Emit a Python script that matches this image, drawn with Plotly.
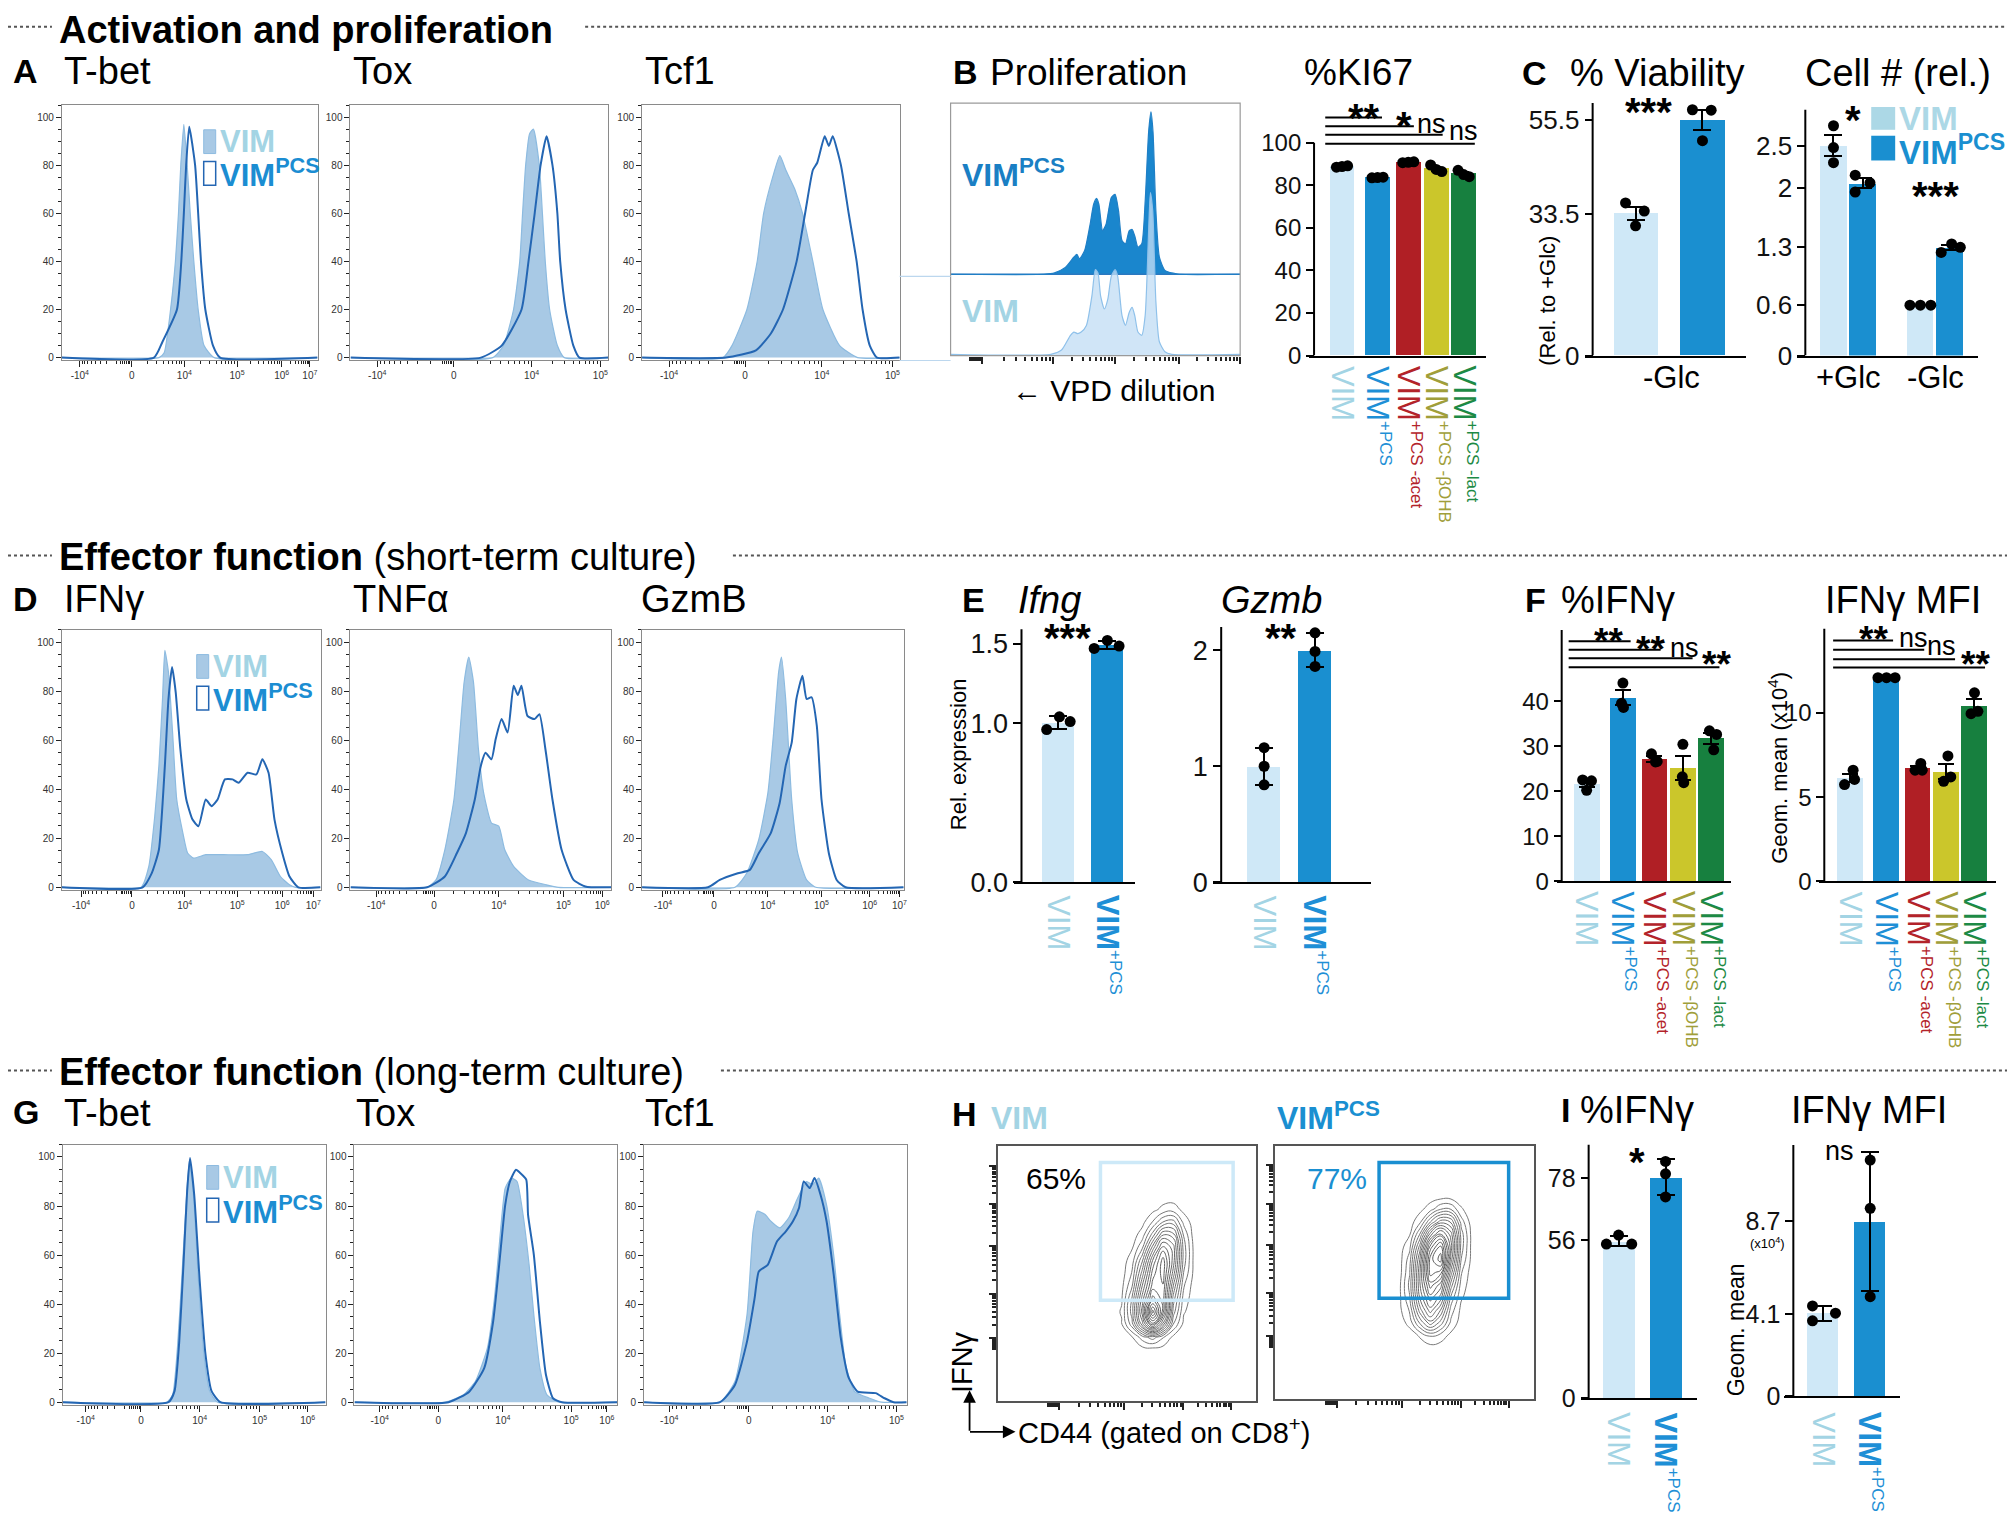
import numpy as np
import plotly.graph_objects as go

# ====================== DATA ======================
# Flow histograms: channel position (0-100 across plotted axis), % of max
A_TBET_VIM_X = [0, 38, 40, 42.5, 44.4, 45.6, 46.5, 47.7, 49, 50.2, 51.6, 53.3, 55.6, 59.6, 100]
A_TBET_VIM_Y = [0, 0, 2, 20, 40, 60, 80, 97, 80, 60, 40, 20, 5, 0, 0]
A_TBET_PCS_X = [0, 36, 39.3, 45, 46.7, 47.7, 48.6, 49.8, 52.1, 53.3, 54.4, 56.1, 59.1, 61.9, 100]
A_TBET_PCS_Y = [0, 0, 6.5, 20, 40, 60, 80, 96, 80, 60, 40, 20, 5, 0, 0]
A_TOX_VIM_X = [0, 55.2, 59.4, 63.3, 65.7, 66.8, 68, 69.5, 71, 73.3, 74.5, 75.6, 77.3, 80.3, 83, 100]
A_TOX_VIM_Y = [0, 0, 5, 20, 40, 60, 80, 93, 95, 80, 60, 40, 20, 5, 0, 0]
A_TOX_PCS_X = [0, 50.6, 58.7, 66.4, 69.1, 71.5, 73.8, 76.1, 78.4, 80.3, 81.4, 83.5, 86.5, 88.9, 100]
A_TOX_PCS_Y = [0, 0, 5, 20, 40, 60, 80, 92, 80, 60, 40, 20, 5, 0, 0]
A_TCF1_VIM_X = [0, 31.4, 34.9, 40.7, 44.7, 47.2, 50.7, 53.5, 55.8, 59.3, 62.3, 66.3, 70.2, 76.7, 83.7, 100]
A_TCF1_VIM_Y = [0, 0, 5, 20, 40, 60, 75, 84, 78, 70, 60, 40, 20, 5, 0, 0]
A_TCF1_PCS_X = [0, 32.6, 44.2, 50, 54.7, 60, 63.3, 66.3, 68, 70.9, 72.5, 74, 77.2, 80.2, 83.3, 85.6, 88.4, 91.2, 100]
A_TCF1_PCS_Y = [0, 0, 3, 10, 20, 40, 60, 78, 81, 92, 88, 92, 80, 60, 40, 20, 5, 0, 0]

D_IFNG_VIM_X = [0, 30.6, 33.6, 35.9, 37.5, 38.9, 39.8, 41.2, 42.8, 44.4, 46.8, 48.6, 50.9, 55.6, 62.5, 71.8, 77.5, 81, 84.5, 88, 90.3, 100]
D_IFNG_VIM_Y = [0, 0, 8.5, 29, 49.5, 76.8, 96.6, 87.7, 63, 35.8, 22, 14, 11.9, 13.3, 13.3, 13.3, 14.6, 11.2, 4.4, 1, 0, 0]
D_IFNG_PCS_X = [0, 31.2, 34.7, 37.5, 39.8, 41.2, 42.6, 44, 45.8, 48.1, 50.5, 52.8, 55.6, 57.9, 60.2, 63, 66, 68.3, 71.8, 75.2, 77.5, 79.9, 82.2, 85.2, 88, 91.4, 100]
D_IFNG_PCS_Y = [0, 0, 5.7, 15.3, 49.5, 76.8, 89.8, 79.5, 56.3, 35.8, 27.6, 24.9, 35.8, 33.1, 35.8, 44, 44, 42.6, 46.7, 46, 52.2, 46.7, 27.6, 14, 4.4, 0, 0]
D_TNFA_VIM_X = [0, 29.4, 32.8, 36.2, 39.7, 42, 43.6, 45.4, 47.2, 49.1, 51.1, 54.1, 56.9, 59.2, 62.6, 68.3, 75.2, 79.8, 100]
D_TNFA_VIM_Y = [0, 0, 3, 15.3, 35.8, 63.1, 83.6, 93.9, 83.6, 56.3, 38.5, 26.2, 24.9, 15.3, 8.5, 3, 1, 0, 0]
D_TNFA_PCS_X = [0, 29.4, 36.2, 40.8, 44.3, 47.7, 50, 51.8, 54.1, 55.7, 58, 60.3, 62.6, 64.2, 65.6, 67.9, 70.6, 72.5, 74.8, 77.5, 81, 85.6, 90.1, 92.4, 100]
D_TNFA_PCS_Y = [0, 0, 4.4, 13.9, 22.1, 35.8, 49.5, 54.9, 52.2, 60.4, 68.6, 63.1, 82.2, 78.4, 82.2, 69.9, 68.6, 70.6, 56.3, 35.8, 15.3, 3, 0.3, 0, 0]
D_GZMB_VIM_X = [0, 35.5, 40, 44.6, 48.1, 50.3, 52.2, 53.3, 54.9, 57.2, 59.5, 62.9, 66.4, 100]
D_GZMB_VIM_Y = [0, 0, 5.7, 19.4, 38.5, 63.1, 87.7, 93.9, 76.8, 35.8, 13.9, 3, 0, 0]
D_GZMB_PCS_X = [0, 25.2, 29.7, 36.6, 41.2, 44.6, 49.2, 52.6, 54.9, 57.2, 59, 61.3, 62.9, 64.8, 66.8, 68.6, 71.4, 74.4, 77.8, 100]
D_GZMB_PCS_Y = [0, 0, 3, 5.7, 7.1, 13.9, 22.1, 34.4, 49.5, 59, 76.8, 86.3, 76.8, 77.5, 65.8, 35.8, 13.9, 3, 0, 0]

G_TBET_VIM_X = [0, 39.5, 41.8, 43.6, 45.2, 46.8, 48.2, 49.8, 51.6, 53.7, 55.9, 58.9, 100]
G_TBET_VIM_Y = [0, 0, 3, 22.1, 49.3, 79.2, 98.9, 83.3, 49.3, 19.4, 4.5, 0, 0]
G_TBET_PCS_X = [0, 40.2, 42.5, 44.3, 45.9, 47.3, 48.4, 50, 52.1, 54.3, 56.6, 60, 100]
G_TBET_PCS_Y = [0, 0, 4.5, 24.8, 56.1, 86, 99.6, 84.6, 49.3, 19.4, 4.5, 0, 0]
G_TOX_VIM_X = [0, 34.6, 41.5, 46, 50.6, 53.3, 55.6, 57.4, 59.7, 61.9, 64.2, 66.5, 68.3, 70.6, 73.3, 77.9, 100]
G_TOX_VIM_Y = [0, 0, 3, 8.4, 22, 42.4, 69.7, 87.3, 91.4, 90, 76.4, 56, 35.6, 13.9, 3, 0, 0]
G_TOX_PCS_X = [0, 35.8, 43.7, 49.4, 52.8, 55.1, 57.4, 59.2, 61.5, 63.1, 65.4, 66.1, 68.3, 70.6, 72.9, 75.6, 79, 100]
G_TOX_PCS_Y = [0, 0, 4.3, 13.9, 32.9, 56, 80.5, 90, 94.8, 93.5, 90.8, 76.4, 60.1, 32.9, 11.2, 1.6, 0, 0]
G_TCF1_VIM_X = [0, 28.9, 34.6, 39.2, 41.5, 43.1, 46, 48.3, 51.7, 55.1, 58.5, 61.9, 64.2, 66.5, 69.5, 72.2, 74.5, 76.8, 80.2, 85.9, 90.4, 100]
G_TCF1_VIM_Y = [0, 0, 8.4, 35.6, 69.7, 77.9, 76.6, 73.8, 71.1, 75.2, 83.3, 90, 88.7, 91.4, 80.5, 60.1, 35.6, 15.2, 4.3, 1.6, 0, 0]
G_TCF1_PCS_X = [0, 28.9, 34.6, 39.2, 42.1, 43.7, 47.1, 50.6, 54, 56.7, 59, 60.8, 63.1, 64.9, 67.2, 69.5, 72.2, 74.9, 77.9, 81.3, 88.2, 91.6, 95, 100]
G_TCF1_PCS_Y = [0, 0, 7, 24.7, 42.4, 53.3, 56, 65.5, 69.7, 73.8, 79.2, 90, 87.3, 91.4, 84.6, 73.8, 52.2, 26.3, 10, 4.3, 3.7, 1.6, 0, 0]

# Histogram tick labels
XT4 = ['-10<sup>4</sup>', '0', '10<sup>4</sup>', '10<sup>5</sup>']
XT5 = XT4 + ['10<sup>6</sup>']
XT6 = XT5 + ['10<sup>7</sup>']
HIST_Y_TICKS = [0, 20, 40, 60, 80, 100]

# Proliferation (VPD) histograms, % of max
PROLIF_VIM_X = [0, 34.6, 38.3, 41.4, 42.6, 43.9, 45.1, 46.9, 48.8, 50.0, 50.9, 51.8, 53.1, 54.3, 55.5, 56.8, 57.7, 59.2, 60.4, 61.7, 62.7, 63.6, 64.7, 66.0, 67.2, 68.4, 69.0, 69.8, 70.9, 72.1, 74.0, 76.4, 100]
PROLIF_VIM_Y = [0, 0, 2.6, 11.7, 13.7, 12.7, 13.7, 17.8, 36, 52.1, 50.1, 36, 27.9, 34, 48.1, 52.1, 48.1, 23.8, 17.8, 25.9, 28.9, 23.8, 13.7, 11.7, 24, 76.6, 99.6, 88.5, 32.3, 7.7, 1.6, 0, 0]
PROLIF_PCS_X = [0, 32.2, 35.9, 39.6, 42.6, 43.6, 44.5, 46.3, 48.2, 49.4, 50.4, 51.2, 52.5, 53.7, 55.5, 56.8, 58.0, 59.2, 60.4, 61.7, 62.7, 63.6, 64.7, 66.0, 67.2, 68.4, 69.2, 69.9, 70.9, 72.1, 74.0, 76.4, 78.9, 100]
PROLIF_PCS_Y = [0, 0, 0.8, 4.1, 10.6, 12.2, 9.5, 14.6, 30.9, 43.1, 46.7, 43.1, 26.8, 30.9, 47.2, 49.2, 39, 20.7, 18.7, 26.8, 27.6, 23.6, 16.7, 18.7, 45.1, 87.8, 100, 87.8, 39, 10.6, 2.4, 0.8, 0, 0]

# Bar chart groups
GROUP_MAIN = ['VIM', 'VIM', 'VIM', 'VIM', 'VIM']
GROUP_SUFFIX = ['', '+PCS', '+PCS -acet', '+PCS -βOHB', '+PCS -lact']
KI67_DOTS = [[88.5, 88.8, 89.1], [83.5, 83.6, 83.8], [90.6, 90.8, 91.0], [89.5, 87.4, 86.4], [87.0, 85.0, 84.0]]
KI67_TICKS = [0, 20, 40, 60, 80, 100]
VIAB_DOTS = [[36.0, 34.1, 30.6], [58.0, 57.9, 50.7]]
VIAB_TICKS = [0, 33.5, 55.5]
CELLNUM_CONDITIONS = ['+Glc', '-Glc']
CELLNUM_DOTS = [[2.74, 2.48, 2.30], [2.15, 1.95, 2.06], [0.6, 0.6, 0.6], [1.23, 1.33, 1.29]]
CELLNUM_TICKS = [0, 0.6, 1.3, 2, 2.5]
IFNG_EXPR_DOTS = [[0.96, 1.04, 1.01], [1.47, 1.52, 1.485]]
IFNG_EXPR_TICKS = [0, 1.0, 1.5]
GZMB_EXPR_DOTS = [[1.16, 1.0, 0.84], [2.15, 1.99, 1.86]]
GZMB_EXPR_TICKS = [0, 1, 2]
F_PCT_DOTS = [[22.5, 22.3, 20.2], [44.0, 39.5, 38.6], [28.3, 26.5, 26.6], [30.4, 23.2, 21.9], [33.4, 32.6, 29.2]]
F_PCT_TICKS = [0, 10, 20, 30, 40]
F_MFI_DOTS = [[6.6, 5.75, 6.05], [12.1, 12.1, 12.1], [7.0, 6.6, 6.6], [7.45, 5.94, 6.2], [11.2, 9.96, 10.1]]
F_MFI_TICKS = [0, 5, 10]
I_PCT_DOTS = [[54.6, 57.8, 54.6], [83.9, 79.5, 71.3]]
I_PCT_TICKS = [0, 56, 78]
I_MFI_DOTS = [[4.49, 3.75, 4.13], [11.75, 9.35, 4.95]]
I_MFI_TICKS = [0, 4.1, 8.7]

# Significance labels
KI67_SIG = ['**', '*', 'ns', 'ns']
F_PCT_SIG = ['**', '**', 'ns', '**']
F_MFI_SIG = ['**', 'ns', 'ns', '**']

# Contour (IFNγ vs CD44) density grids
H_X = [44, 48, 52, 56, 60, 64, 68, 72, 76, 80]
H_Y = [20, 25, 30, 35, 40, 45, 50, 55, 60, 65, 70, 75, 80]
H_VIM_Z = [
    [0, 0, 0, 0, 0, 0, 0, 0, 0, 0],
    [0, 0, 0.2, 1.0, 1.5, 0.8, 0.1, 0, 0, 0],
    [0, 0.2, 1.5, 4.0, 6.5, 4.0, 1.2, 0.1, 0, 0],
    [0, 0.3, 2.0, 5.0, 9.0, 6.0, 2.0, 0.3, 0, 0],
    [0, 0.2, 1.8, 4.5, 7.0, 6.0, 2.5, 0.5, 0, 0],
    [0, 0.1, 1.2, 3.8, 6.0, 6.2, 3.2, 0.8, 0, 0],
    [0, 0, 0.8, 3.0, 5.5, 6.5, 4.0, 1.2, 0.1, 0],
    [0, 0, 0.5, 2.2, 4.8, 6.5, 4.5, 1.5, 0.1, 0],
    [0, 0, 0.2, 1.2, 3.5, 5.5, 4.5, 1.5, 0.1, 0],
    [0, 0, 0, 0.5, 2.0, 3.8, 3.5, 1.2, 0, 0],
    [0, 0, 0, 0.1, 0.8, 1.8, 2.0, 0.6, 0, 0],
    [0, 0, 0, 0, 0.1, 0.4, 0.5, 0.1, 0, 0],
    [0, 0, 0, 0, 0, 0, 0, 0, 0, 0]]
H_PCS_Z = [
    [0, 0, 0, 0, 0, 0, 0, 0, 0, 0],
    [0, 0, 0, 0.3, 0.8, 0.5, 0.1, 0, 0, 0],
    [0, 0, 0.4, 1.8, 3.0, 2.0, 0.6, 0, 0, 0],
    [0, 0.1, 0.8, 3.0, 4.5, 3.2, 1.0, 0.1, 0, 0],
    [0, 0.1, 1.2, 3.8, 5.5, 4.5, 1.6, 0.3, 0, 0],
    [0, 0.1, 1.4, 4.2, 6.5, 5.5, 2.5, 0.5, 0, 0],
    [0, 0, 1.2, 4.2, 7.5, 7.0, 3.5, 0.8, 0, 0],
    [0, 0, 1.0, 3.8, 7.5, 8.5, 4.5, 1.2, 0.1, 0],
    [0, 0, 0.6, 3.0, 6.5, 8.0, 5.0, 1.5, 0.1, 0],
    [0, 0, 0.2, 1.8, 4.5, 6.0, 4.5, 1.5, 0.1, 0],
    [0, 0, 0, 0.6, 2.2, 3.5, 3.2, 1.0, 0, 0],
    [0, 0, 0, 0.1, 0.5, 1.2, 1.2, 0.3, 0, 0],
    [0, 0, 0, 0, 0, 0, 0, 0, 0, 0]]
H_GATE_PCT = ['65%', '77%']

# ====================== STYLE ======================
FONT = "Liberation Sans, Arial, Helvetica, sans-serif"
W, H = 2015, 1525
VIM_TXT = '#a3d4e4'
PCS_TXT = '#1b8dd2'
BAR_COLORS = ['#cfe8f7', '#1a8fd0', '#b01f25', '#cbc62b', '#17803f']
LBL_COLORS = ['#a3d4e4', '#1e8fd6', '#b3232a', '#a09e3a', '#1d8a45']
HIST_FILL = 'rgba(110,165,212,0.6)'
HIST_EDGE = '#8dbbe0'
HIST_LINE = '#2466b3'

fig = go.Figure()
_n = [0]


def new_axes(xpx, ypx, xr, yr, xo=None, yo=None):
    _n[0] += 1
    s = '' if _n[0] == 1 else str(_n[0])
    xa = dict(domain=[xpx[0] / W, xpx[1] / W], range=xr, anchor='y' + s,
              showgrid=False, zeroline=False)
    ya = dict(domain=[1 - ypx[1] / H, 1 - ypx[0] / H], range=yr, anchor='x' + s,
              showgrid=False, zeroline=False)
    xa.update(xo or {})
    ya.update(yo or {})
    fig.update_layout(**{'xaxis' + s: xa, 'yaxis' + s: ya})
    return 'x' + s, 'y' + s


def txt(x, y, s, size, color='black', bold=False, italic=False, xanchor='left',
        yanchor='middle', angle=0):
    if bold:
        s = '<b>' + s + '</b>'
    if italic:
        s = '<i>' + s + '</i>'
    fig.add_annotation(x=x / W, y=1 - y / H, xref='paper', yref='paper', text=s,
                       showarrow=False, xanchor=xanchor, yanchor=yanchor, textangle=angle,
                       font=dict(size=size, color=color, family=FONT))


def pline(x0, y0, x1, y1, color='black', width=2, dash=None):
    fig.add_shape(type='line', xref='paper', yref='paper', x0=x0 / W, x1=x1 / W,
                  y0=1 - y0 / H, y1=1 - y1 / H, line=dict(color=color, width=width, dash=dash))


def prect(x0, y0, x1, y1, line_color, fill=None, width=1.5):
    fig.add_shape(type='rect', xref='paper', yref='paper', x0=x0 / W, x1=x1 / W,
                  y0=1 - y1 / H, y1=1 - y0 / H, line=dict(color=line_color, width=width),
                  fillcolor=fill if fill else 'rgba(0,0,0,0)')


def log_minor(ticks, zi):
    m = []
    for i in range(len(ticks) - 1):
        a, b = ticks[i], ticks[i + 1]
        for k in range(2, 10):
            f = np.log10(k)
            m.append(b - (b - a) * f if i < zi else a + (b - a) * f)
    z = ticks[zi]
    m += [z - d for d in (0.7, 1.4, 2.1, 2.8, 3.5, 4.2)]
    return m


def hist_panel(box, ticks, labels, vx, vy, cx, cy, zi=1):
    x0, y0, x1, y1 = box
    ax_common = dict(showline=True, mirror=True, linecolor='#8a8a8a', linewidth=1,
                     ticks='outside', tickcolor='#222', tickwidth=1,
                     tickfont=dict(size=10, color='#333', family=FONT))
    xo = dict(ax_common, ticklen=6, tickmode='array', tickvals=ticks, ticktext=labels,
              minor=dict(tickmode='array', tickvals=log_minor(ticks, zi), ticks='outside',
                         ticklen=3, tickcolor='#222'))
    yo = dict(ax_common, ticklen=5, tickmode='array', tickvals=HIST_Y_TICKS,
              minor=dict(dtick=5, tick0=0, ticks='outside', ticklen=3, tickcolor='#222'))
    xa, ya = new_axes((x0, x1), (y0, y1), [0, 100], [-1.2, 105], xo, yo)
    fig.add_trace(go.Scatter(x=vx, y=vy, mode='lines', fill='tozeroy', fillcolor=HIST_FILL,
                             line=dict(color=HIST_EDGE, width=1.2, shape='spline', smoothing=0.5),
                             xaxis=xa, yaxis=ya, hoverinfo='skip'))
    fig.add_trace(go.Scatter(x=cx, y=cy, mode='lines',
                             line=dict(color=HIST_LINE, width=2, shape='spline', smoothing=0.5),
                             xaxis=xa, yaxis=ya, hoverinfo='skip'))


def hist_legend(x, yv, yp):
    prect(x, yv - 12, x + 12, yv + 12, HIST_EDGE, HIST_FILL, 1)
    prect(x, yp - 12, x + 12, yp + 12, HIST_LINE, None, 1.5)
    txt(x + 14, yv, 'VIM', 31, VIM_TXT, bold=True)
    txt(x + 14, yp, 'VIM<sup>PCS</sup>', 31, PCS_TXT, bold=True)


def bar_panel(sp, dots, colors, positions, offsets, err):
    unit, c0 = sp['unit'], sp['c0']
    xr = [(sp['xs'] - c0) / unit, (sp['xe'] - c0) / unit]
    top_px = sp['base'] - sp['ytop'] * sp['ppu']
    xo = dict(showline=True, linecolor='black', linewidth=2, showticklabels=False, ticks='')
    yo = dict(anchor='free', position=sp['axis'] / W, showline=False, ticks='outside',
              ticklen=8, tickwidth=2, tickcolor='black', tickmode='array',
              tickvals=sp['yt'], ticktext=sp['ytl'],
              tickfont=dict(size=sp.get('tfs', 24), color='#111', family=FONT))
    xa, ya = new_axes((sp['xs'], sp['xe']), (top_px, sp['base']), xr, [0, sp['ytop']], xo, yo)
    means = [float(np.mean(d)) for d in dots]
    if err == 'sem':
        errs = [float(np.std(d, ddof=1) / np.sqrt(len(d))) for d in dots]
    else:
        errs = [float(np.std(d, ddof=1)) for d in dots]
    fig.add_trace(go.Bar(x=positions, y=means, width=sp['bw'],
                         marker=dict(color=colors, line=dict(width=0)),
                         error_y=dict(type='data', array=errs, color='black', thickness=2,
                                      width=sp.get('cap', 9)),
                         xaxis=xa, yaxis=ya, hoverinfo='skip'))
    xs, ys = [], []
    for p, d, o in zip(positions, dots, offsets):
        for v, oo in zip(d, o):
            xs.append(p + oo)
            ys.append(v)
    fig.add_trace(go.Scatter(x=xs, y=ys, mode='markers', cliponaxis=False,
                             marker=dict(color='black', size=sp.get('ms', 11)),
                             xaxis=xa, yaxis=ya, hoverinfo='skip'))
    fig.add_shape(type='line', xref='paper', yref=ya, x0=sp['axis'] / W, x1=sp['axis'] / W,
                  y0=0, y1=sp['atop'], line=dict(color='black', width=2))
    return xa, ya


def sig_text(xa, ya, s, xv, yv, star_size=40):
    star = '*' in s
    fig.add_annotation(x=xv, y=yv, xref=xa, yref=ya, showarrow=False,
                       text=('<b>' + s + '</b>') if star else s,
                       font=dict(size=star_size if star else 27, color='black', family=FONT),
                       xanchor='center', yanchor='middle', yshift=-9 if star else 0,
                       borderpad=0)


def sig_lines(xa, ya, x_start, ends, ys, labels, label_pos, star_size=40):
    for e, yv in zip(ends, ys):
        fig.add_shape(type='line', xref=xa, yref=ya, x0=x_start, x1=e, y0=yv, y1=yv,
                      line=dict(color='black', width=2))
    for s, (xv, yv) in zip(labels, label_pos):
        sig_text(xa, ya, s, xv, yv, star_size)


def cat_labels(xa, positions, mains, suffixes, colors, y_px, size=31, sup=17, bold_pcs=False):
    for p, m, s, c in zip(positions, mains, suffixes, colors):
        mm = m
        if bold_pcs and s:
            mm = '<b>' + m + '</b>'
        t = mm + (f"<sup><span style='font-size:{sup}px'>{s}</span></sup>" if s else '')
        fig.add_annotation(x=p, y=1 - y_px / H, xref=xa, yref='paper', text=t, textangle=90,
                           xanchor='center', yanchor='top', showarrow=False,
                           font=dict(size=size, color=c, family=FONT))


# ====================== SECTION HEADERS ======================
for ytitle, title, xend in [(19, '<b>Activation and proliferation</b>', 578),
                            (553, '<b>Effector function</b> (short-term culture)', 726),
                            (1073, '<b>Effector function</b> (long-term culture)', 714)]:
    pline(0, ytitle, 44, ytitle, '#555', 2, 'dot')
    pline(xend, ytitle, W, ytitle, '#555', 2, 'dot')
    fig.add_annotation(x=50 / W, y=1 - (ytitle - 21) / H if ytitle > 30 else 1.0, xref='paper',
                       yref='paper', text=title, showarrow=False, xanchor='left', yanchor='top',
                       borderpad=0, font=dict(size=38, color='black', family=FONT))

# panel letters
for L, x, y in [('A', 3, 64), ('B', 944, 65), ('C', 1514, 66), ('D', 3, 597), ('E', 953, 598),
                ('F', 1517, 598), ('G', 3, 1115), ('H', 943, 1117), ('I', 1553, 1113)]:
    txt(x, y, L, 34, bold=True)

# ====================== ROW 1: histograms A ======================
for t, x in [('T-bet', 54), ('Tox', 344), ('Tcf1', 636)]:
    txt(x, 64, t, 38)
hist_panel((54, 98, 310, 356), [7.0, 27.3, 47.9, 68.5, 86.0, 97.0], XT6,
           A_TBET_VIM_X, A_TBET_VIM_Y, A_TBET_PCS_X, A_TBET_PCS_Y)
hist_panel((343, 98, 601, 356), [10.4, 40.1, 70.3, 97], XT4,
           A_TOX_VIM_X, A_TOX_VIM_Y, A_TOX_PCS_X, A_TOX_PCS_Y)
hist_panel((635, 98, 893, 356), [10.5, 40, 69.8, 97.2], XT4,
           A_TCF1_VIM_X, A_TCF1_VIM_Y, A_TCF1_PCS_X, A_TCF1_PCS_Y)
hist_legend(196, 135, 167)

# ====================== B: proliferation ======================
txt(981, 65, 'Proliferation', 37)
PROLIF_MAJOR = [11, 35.3, 56.8, 78.9, 99.8]
xa, ya = new_axes((944, 1234), (96, 351), [0, 100], [0, 100],
                  dict(showline=False, ticks='outside', ticklen=7, tickwidth=1.5, tickcolor='#222',
                       tickmode='array', tickvals=PROLIF_MAJOR, showticklabels=False,
                       minor=dict(tickmode='array', tickvals=log_minor(PROLIF_MAJOR, 0),
                                  ticks='outside', ticklen=4, tickcolor='#222')),
                  dict(showline=False, showticklabels=False, ticks=''))
PCS_BASE, VIM_BASE, PK = 32.2, 0.5, 0.643
fig.add_trace(go.Scatter(x=[0, 100], y=[PCS_BASE, PCS_BASE], mode='lines',
                         line=dict(color='#2a78c0', width=1.5), xaxis=xa, yaxis=ya, hoverinfo='skip'))
fig.add_trace(go.Scatter(x=PROLIF_PCS_X, y=[PCS_BASE + v * PK for v in PROLIF_PCS_Y], mode='lines',
                         fill='tonexty', fillcolor='#1a86cd',
                         line=dict(color='#1f7fc6', width=1.2, shape='spline', smoothing=0.6),
                         xaxis=xa, yaxis=ya, hoverinfo='skip'))
fig.add_trace(go.Scatter(x=PROLIF_VIM_X, y=[VIM_BASE + v * PK for v in PROLIF_VIM_Y], mode='lines',
                         fill='tozeroy', fillcolor='rgba(195,222,245,0.78)',
                         line=dict(color='#8fc1ea', width=1.2, shape='spline', smoothing=0.6),
                         xaxis=xa, yaxis=ya, hoverinfo='skip'))
fig.add_shape(type='rect', xref=xa + ' domain', yref=ya + ' domain', x0=0, x1=1, y0=0, y1=1,
              line=dict(color='#9a9a9a', width=1.2))
pline(893, 271, 944, 271, '#bcd7ee', 1.2)
pline(893, 356, 944, 356, '#bcd7ee', 1.2)
txt(953, 167, 'VIM<sup>PCS</sup>', 32, '#1a7fc4', bold=True)
txt(953, 306, 'VIM', 32, VIM_TXT, bold=True)
txt(1003, 386, '← VPD dilution', 30)

# ====================== B: %KI67 ======================
txt(1296, 65, '%KI67', 37)
P5 = [0, 1.27, 2.37, 3.37, 4.35]
OFF3 = [-0.2, 0.0, 0.2]
ki = dict(axis=1308, xs=1303, xe=1480, base=351, ppu=2.15, ytop=125, atop=100, c0=1336, unit=28,
          bw=0.89, yt=KI67_TICKS, ytl=[str(v) for v in KI67_TICKS], tfs=24, cap=5)
xa, ya = bar_panel(ki, KI67_DOTS, BAR_COLORS, P5, [OFF3] * 5, 'sem')
sig_lines(xa, ya, -0.6, [1.43, 2.57, 3.6, 4.75], [111.8, 107.7, 103.7, 99.5], KI67_SIG,
          [(0.79, 116), (2.21, 112), (3.2, 109), (4.36, 105.4)])
cat_labels(xa, P5, GROUP_MAIN, GROUP_SUFFIX, LBL_COLORS, 359)

# ====================== C: viability & cell number ======================
txt(1562, 66, '% Viability', 38)
txt(1798, 66, 'Cell # (rel.)', 38)
vi = dict(axis=1587, xs=1579, xe=1741, base=351, ppu=4.28, ytop=64, atop=59.6, c0=1630, unit=67,
          bw=0.67, yt=VIAB_TICKS, ytl=['0', '33.5', '55.5'], tfs=26)
xa, ya = bar_panel(vi, VIAB_DOTS, BAR_COLORS[:2], [0, 1], [[-0.15, 0.13, 0.0]] * 2, 'sem')
sig_text(xa, ya, '***', 0.2, 59.6)
txt(1666, 373, '-Glc', 31, xanchor='center')
txt(1541, 296, '(Rel. to +Glc)', 22, angle=-90, xanchor='center')

cn = dict(axis=1800, xs=1792, xe=1973, base=351, ppu=84.7, ytop=3.05, atop=2.93, c0=1843, unit=87,
          bw=0.31, yt=CELLNUM_TICKS, ytl=['0', '0.6', '1.3', '2', '2.5'], tfs=26)
CN_POS = [-0.17, 0.17, 0.83, 1.17]
xa, ya = bar_panel(cn, CELLNUM_DOTS, [BAR_COLORS[0], BAR_COLORS[1], BAR_COLORS[0], BAR_COLORS[1]],
                   CN_POS, [[0, 0, 0], [-0.09, -0.09, 0.08], [-0.12, 0, 0.12], [-0.1, 0.02, 0.12]], 'sem')
sig_text(xa, ya, '*', 0.05, 2.91)
sig_text(xa, ya, '***', 1.0, 2.01)
for i, c in enumerate(CELLNUM_CONDITIONS):
    fig.add_annotation(x=i, y=1 - 373 / H, xref=xa, yref='paper', text=c, showarrow=False,
                       xanchor='center', yanchor='middle', font=dict(size=31, family=FONT, color='black'))
prect(1866, 100, 1890, 123, '#acd8e6', '#acd8e6', 0)
prect(1866, 129, 1890, 154, '#1a8fd0', '#1a8fd0', 0)
txt(1892, 112, 'VIM', 33, '#acd8e6', bold=True)
txt(1892, 143, 'VIM<sup>PCS</sup>', 33, '#1a8fd0', bold=True)

# ====================== ROW 2: histograms D ======================
for t, x in [('IFNγ', 54), ('TNFα', 344), ('GzmB', 632)]:
    txt(x, 597, t, 38)
hist_panel((54, 628, 313, 891), [7.4, 27.1, 47.5, 67.8, 85.2, 97.2], XT6,
           D_IFNG_VIM_X, D_IFNG_VIM_Y, D_IFNG_PCS_X, D_IFNG_PCS_Y)
hist_panel((343, 628, 604, 891), [9.9, 32.1, 56.9, 81.7, 96.6], XT5,
           D_TNFA_VIM_X, D_TNFA_VIM_Y, D_TNFA_PCS_X, D_TNFA_PCS_Y)
hist_panel((635, 628, 897, 891), [8, 27.5, 48.1, 68.6, 87, 98.4], XT6,
           D_GZMB_VIM_X, D_GZMB_VIM_Y, D_GZMB_PCS_X, D_GZMB_PCS_Y)
hist_legend(189, 665, 697)

# ====================== E: qPCR ======================
txt(1010, 598, 'Ifng', 38, italic=True)
txt(1213, 598, 'Gzmb', 38, italic=True)
e1 = dict(axis=1015, xs=1008, xe=1129, base=883, ppu=160.7, ytop=1.72, atop=1.59, c0=1052, unit=49,
          bw=0.65, yt=IFNG_EXPR_TICKS, ytl=['0.0', '1.0', '1.5'], tfs=27)
xa, ya = bar_panel(e1, IFNG_EXPR_DOTS, BAR_COLORS[:2], [0, 1], [[-0.24, 0.02, 0.24], [-0.27, 0, 0.24]], 'sd')
sig_text(xa, ya, '***', 0.18, 1.59)
cat_labels(xa, [0, 1], ['VIM', 'VIM'], ['', '+PCS'], LBL_COLORS[:2], 894, bold_pcs=True)
txt(952, 754, 'Rel. expression', 22, angle=-90, xanchor='center')
e2 = dict(axis=1215, xs=1207, xe=1365, base=883, ppu=117.2, ytop=2.35, atop=2.2, c0=1258, unit=51,
          bw=0.65, yt=GZMB_EXPR_TICKS, ytl=['0', '1', '2'], tfs=27)
xa, ya = bar_panel(e2, GZMB_EXPR_DOTS, BAR_COLORS[:2], [0, 1], [[0, 0, 0], [0, 0, 0]], 'sd')
sig_text(xa, ya, '**', 0.33, 2.18)
cat_labels(xa, [0, 1], ['VIM', 'VIM'], ['', '+PCS'], LBL_COLORS[:2], 894, bold_pcs=True)

# ====================== F: %IFNγ and MFI ======================
txt(1553, 598, '%IFNγ', 38)
txt(1818, 598, 'IFNγ MFI', 38)
f1 = dict(axis=1556, xs=1551, xe=1726, base=882, ppu=4.55, ytop=58, atop=55.8, c0=1581, unit=28.6,
          bw=0.9, yt=F_PCT_TICKS, ytl=[str(v) for v in F_PCT_TICKS], tfs=24, cap=8)
F_OFF = [[-0.14, 0.17, 0.0], [0, -0.05, 0.02], [-0.1, 0.04, 0.1], [0, -0.02, 0.03], [-0.05, 0.2, 0.1]]
xa, ya = bar_panel(f1, F_PCT_DOTS, BAR_COLORS, P5, F_OFF, 'sem')
sig_lines(xa, ya, -0.63, [1.54, 2.59, 3.71, 4.65], [53.3, 51.4, 49.5, 47.5], F_PCT_SIG,
          [(0.77, 55.3), (2.25, 53.5), (3.42, 51.8), (4.55, 50.2)], star_size=37)
cat_labels(xa, P5, GROUP_MAIN, GROUP_SUFFIX, LBL_COLORS, 890)
f2 = dict(axis=1819, xs=1814, xe=1991, base=882, ppu=17.0, ytop=15.6, atop=15.0, c0=1845, unit=28.6,
          bw=0.9, yt=F_MFI_TICKS, ytl=[str(v) for v in F_MFI_TICKS], tfs=24, cap=8)
F_OFF2 = [[0.1, -0.2, 0.15], [-0.3, 0, 0.3], [0.1, -0.1, 0.15], [0.05, -0.1, 0.15], [0.0, -0.12, 0.12]]
xa, ya = bar_panel(f2, F_MFI_DOTS, BAR_COLORS, P5, F_OFF2, 'sem')
sig_lines(xa, ya, -0.6, [1.50, 2.59, 3.67, 4.72], [14.3, 13.76, 13.2, 12.7], F_MFI_SIG,
          [(0.80, 14.9), (2.2, 14.44), (3.2, 14.0), (4.37, 13.4)], star_size=37)
cat_labels(xa, P5, GROUP_MAIN, GROUP_SUFFIX, LBL_COLORS, 890)
txt(1773, 767, 'Geom. mean (x10<sup>4</sup>)', 22, angle=-90, xanchor='center')

# ====================== ROW 3: histograms G ======================
for t, x in [('T-bet', 54), ('Tox', 347), ('Tcf1', 636)]:
    txt(x, 1116, t, 38)
hist_panel((55, 1148, 318, 1411), [8.7, 29.7, 52.1, 74.9, 93.2], XT5,
           G_TBET_VIM_X, G_TBET_VIM_Y, G_TBET_PCS_X, G_TBET_PCS_Y)
hist_panel((347, 1148, 610, 1411), [9.6, 31.9, 56.5, 82.5, 96.1], XT5,
           G_TOX_VIM_X, G_TOX_VIM_Y, G_TOX_PCS_X, G_TOX_PCS_Y)
hist_panel((637, 1148, 900, 1411), [9.6, 39.9, 69.9, 96.1], XT4,
           G_TCF1_VIM_X, G_TCF1_VIM_Y, G_TCF1_PCS_X, G_TCF1_PCS_Y)
hist_legend(199, 1181, 1214)

# ====================== H: contour plots ======================
H_YT = [24.8, 41.9, 60.9, 77.1, 92.2]
H_XT = [23.9, 49, 71.8, 90.3]


def contour_panel(box, z, gate, gcol, pct, pct_col, pct_x):
    x0, y0, x1, y1 = box
    base = dict(showline=True, mirror=True, linecolor='#555', linewidth=1.5, ticks='outside',
                ticklen=7, tickwidth=1.5, tickcolor='#222', showticklabels=False, tickmode='array')
    xo = dict(base, tickvals=H_XT, minor=dict(tickmode='array', tickvals=log_minor(H_XT, 0),
                                             ticks='outside', ticklen=4, tickcolor='#222'))
    yo = dict(base, tickvals=H_YT, minor=dict(tickmode='array', tickvals=log_minor(H_YT, 0),
                                             ticks='outside', ticklen=4, tickcolor='#222'))
    xa, ya = new_axes((x0, x1), (y0, y1), [0, 100], [0, 100], xo, yo)
    fig.add_trace(go.Contour(x=H_X, y=H_Y, z=z, xaxis=xa, yaxis=ya, showscale=False,
                             contours=dict(coloring='lines', start=0.25, end=9.0, size=0.5),
                             line=dict(width=1, smoothing=1.3),
                             colorscale=[[0, '#7a7a7a'], [1, '#555555']], hoverinfo='skip'))
    fig.add_shape(type='rect', xref=xa, yref=ya, x0=gate[0], x1=gate[1], y0=gate[2], y1=gate[3],
                  line=dict(color=gcol, width=3.5))
    txt(pct_x, 1182, pct, 30, pct_col)


contour_panel((991, 1149, 1250, 1407), H_VIM_Z, (39.8, 91.1, 39.5, 93.4), '#cde9f8', H_GATE_PCT[0], 'black', 1018)
contour_panel((1269, 1149, 1528, 1405), H_PCS_Z, (40.2, 90.3, 39.8, 93.4), '#1a8fd1', H_GATE_PCT[1], '#1a8fd1', 1299)
txt(982, 1121, 'VIM', 32, VIM_TXT, bold=True)
txt(1269, 1119, 'VIM<sup>PCS</sup>', 32, '#1a8fd1', bold=True)
txt(955, 1368, 'IFNγ', 29, angle=-90, xanchor='center')
txt(1010, 1437, 'CD44 (gated on CD8<sup>+</sup>)', 29)
fig.add_annotation(x=963 / W, y=1 - 1396 / H, ax=0, ay=42, xref='paper', yref='paper',
                   text='', showarrow=True, arrowhead=2, arrowsize=1.4,
                   arrowwidth=1.8, arrowcolor='black')
fig.add_annotation(x=1009 / W, y=1 - 1438 / H, ax=-47, ay=0, xref='paper', yref='paper',
                   text='', showarrow=True, arrowhead=2, arrowsize=1.4,
                   arrowwidth=1.8, arrowcolor='black')

# ====================== I: long-term IFNγ ======================
txt(1572, 1113, '%IFNγ', 38)
txt(1784, 1113, 'IFNγ MFI', 38)
i1 = dict(axis=1583, xs=1575, xe=1692, base=1404, ppu=2.85, ytop=92, atop=89.8, c0=1613, unit=47,
          bw=0.68, yt=I_PCT_TICKS, ytl=['0', '56', '78'], tfs=25)
xa, ya = bar_panel(i1, I_PCT_DOTS, BAR_COLORS[:2], [0, 1], [[-0.26, 0, 0.28], [0, 0, 0]], 'sd')
sig_text(xa, ya, '*', 0.4, 87)
cat_labels(xa, [0, 1], ['VIM', 'VIM'], ['', '+PCS'], LBL_COLORS[:2], 1416, bold_pcs=True)
i2 = dict(axis=1788, xs=1779, xe=1895, base=1402, ppu=20.3, ytop=12.8, atop=12.5, c0=1818, unit=47,
          bw=0.66, yt=I_MFI_TICKS, ytl=['0', '4.1', '8.7'], tfs=25)
xa, ya = bar_panel(i2, I_MFI_DOTS, BAR_COLORS[:2], [0, 1], [[-0.23, -0.23, 0.26], [0, 0, 0]], 'sd')
sig_text(xa, ya, 'ns', 0.34, 12.2)
cat_labels(xa, [0, 1], ['VIM', 'VIM'], ['', '+PCS'], LBL_COLORS[:2], 1416, bold_pcs=True)
txt(1762, 1247, '(x10<sup>4</sup>)', 13, xanchor='center')
txt(1730, 1335, 'Geom. mean', 23, angle=-90, xanchor='center')

fig.update_layout(width=W, height=H, margin=dict(l=0, r=0, t=0, b=0), paper_bgcolor='white',
                  plot_bgcolor='rgba(0,0,0,0)', showlegend=False, hovermode=False,
                  font=dict(family=FONT), bargap=0)
fig.write_html('out.html')
